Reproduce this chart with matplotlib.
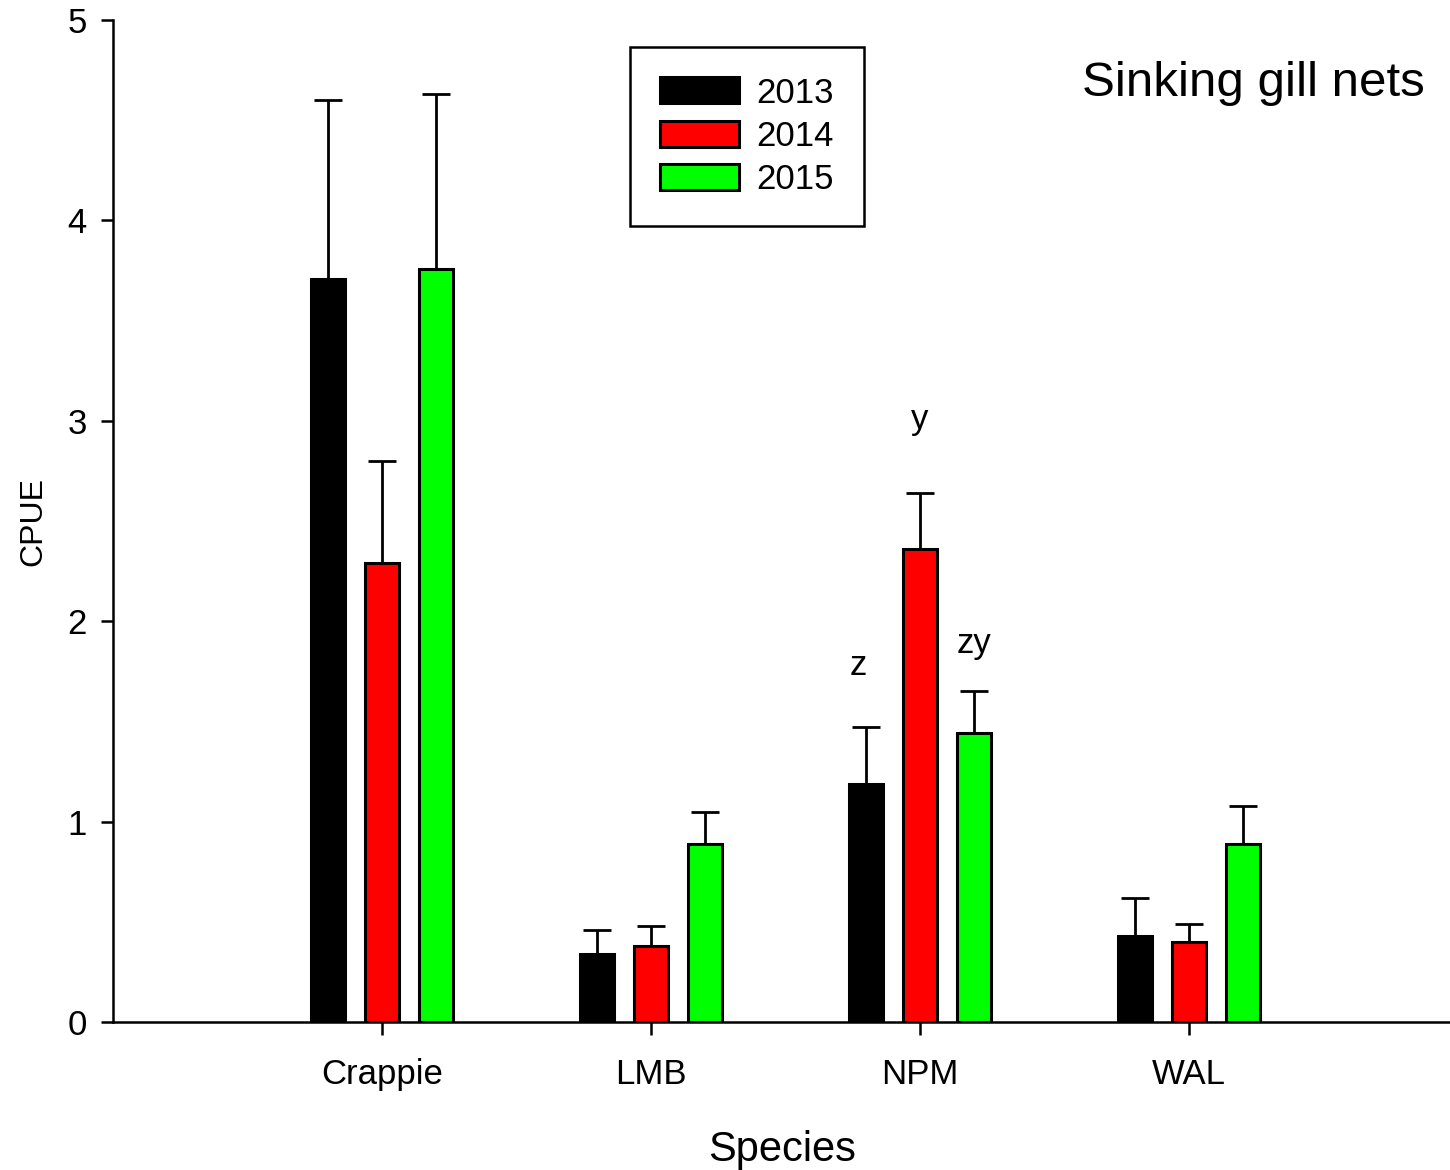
import numpy as np
import matplotlib
matplotlib.use('Agg')
import matplotlib.pyplot as plt

plt.rcParams['font.family'] = ['Liberation Sans', 'DejaVu Sans']

species = ['Crappie', 'LMB', 'NPM', 'WAL']
years = ['2013', '2014', '2015']
colors = ['#000000', '#ff0000', '#00ff00']

cpue_2013 = [3.71, 0.34, 1.19, 0.43]
cpue_2014 = [2.29, 0.38, 2.36, 0.40]
cpue_2015 = [3.76, 0.89, 1.44, 0.89]
se_2013 = [0.89, 0.12, 0.28, 0.19]
se_2014 = [0.51, 0.10, 0.28, 0.09]
se_2015 = [0.87, 0.16, 0.21, 0.19]

# significance letters for NPM
letters = ['z', 'y', 'zy']
letter_y = [1.73, 2.96, 1.84]
letter_dx = [-0.23, 0.0, 0.2]

fig = plt.figure(figsize=(14.5, 11.7), dpi=100)
ax = fig.add_axes([0.078, 0.1265, 0.922, 0.8564])

x = np.arange(1, len(species) + 1)
width = 0.126
offsets = [-0.2, 0.0, 0.2]
values = [cpue_2013, cpue_2014, cpue_2015]
errors = [se_2013, se_2014, se_2015]

for vals, errs, col, off, yr in zip(values, errors, colors, offsets, years):
    ax.bar(x + off, vals, width, color=col, edgecolor='black', linewidth=2.2, label=yr, zorder=2)
    ax.errorbar(x + off, vals, yerr=[np.zeros(len(vals)), errs], fmt='none',
                ecolor='black', elinewidth=2, capsize=10, capthick=2, zorder=1)

for lt, ly, dx in zip(letters, letter_y, letter_dx):
    ax.text(3 + dx, ly, lt, ha='center', va='baseline', fontsize=25)

ax.set_xlim(0, 4.97)
ax.set_ylim(0, 5)
ax.set_xticks(x)
ax.set_xticklabels(species)
ax.set_yticks(range(6))
ax.tick_params(axis='both', direction='out', length=9, width=1.8, labelsize=25)
ax.tick_params(axis='x', pad=17)
ax.tick_params(axis='y', pad=10)
for s in ['top', 'right']:
    ax.spines[s].set_visible(False)
for s in ['left', 'bottom']:
    ax.spines[s].set_linewidth(1.8)

ax.set_ylabel('CPUE', fontsize=23, labelpad=14)
ax.set_xlabel('Species', fontsize=30, labelpad=28)

ax.text(0.981, 0.937, 'Sinking gill nets', transform=ax.transAxes, ha='right', va='center', fontsize=35.5)

leg = ax.legend(loc='upper left', bbox_to_anchor=(630 / 1450, 1 - 47 / 1170), bbox_transform=fig.transFigure,
                borderaxespad=0, fontsize=25, handlelength=2.3, handleheight=0.77, handletextpad=0.5,
                labelspacing=0.3, borderpad=0.85, fancybox=False, framealpha=1, edgecolor='black')
leg.get_frame().set_linewidth(1.8)

fig.savefig('out.png', dpi=100)
